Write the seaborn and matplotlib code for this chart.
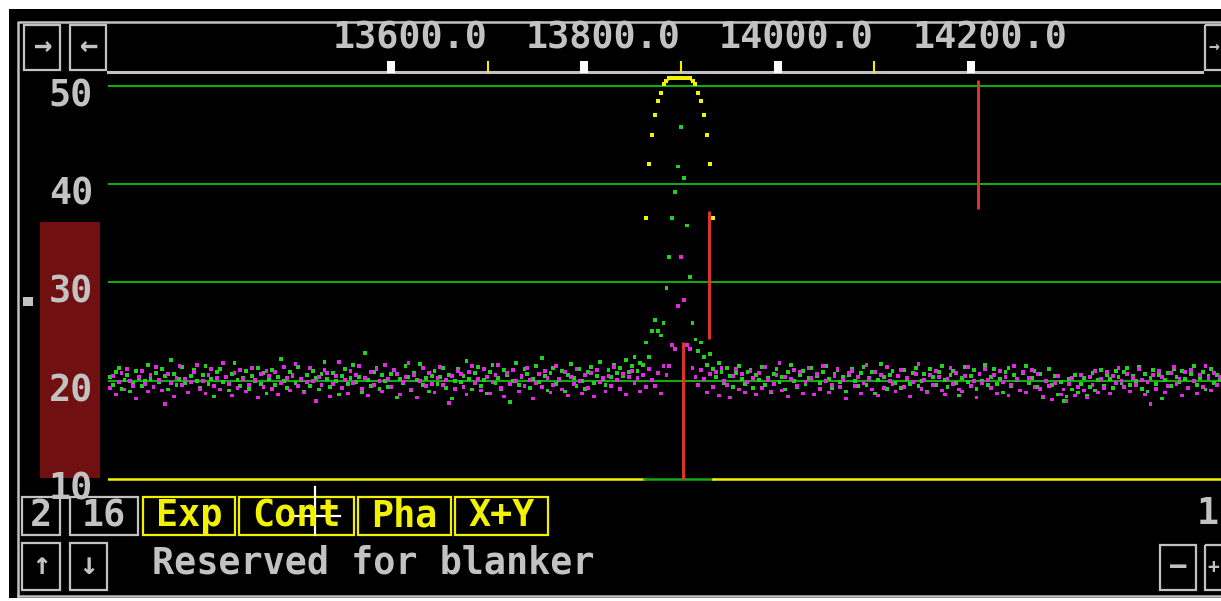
import numpy as np
import pandas as pd
import matplotlib
matplotlib.use("Agg")
import matplotlib.pyplot as plt
from matplotlib.patches import Rectangle
from matplotlib.transforms import ScaledTranslation
import seaborn as sns

# ---------------- scan data ----------------
FREQ_START = 13309          # first sample of the sweep
FREQ_STEP = 3               # sweep step

channel_x = [
    20.4, 19.6, 20.9, 21.3, 19.2, 20.1, 20.6, 18.9, 19.8, 21.0, 20.3, 19.5, 20.0, 21.6, 20.2, 19.4,
    20.8, 19.9, 21.2, 20.5, 19.1, 22.1, 20.7, 19.6, 20.2, 21.4, 19.8, 18.8, 20.5, 21.1, 20.0, 19.3,
    20.6, 21.5, 19.7, 20.2, 18.4, 20.9, 21.2, 19.9, 20.4, 19.0, 20.7, 21.8, 20.1, 19.5, 20.3, 21.0,
    19.2, 20.5, 20.0, 21.3, 19.7, 20.8, 18.7, 20.2, 21.1, 19.6, 20.4, 22.2, 20.0, 19.3, 20.9, 20.5,
    19.8, 21.4, 20.1, 18.9, 20.6, 19.5, 21.0, 20.3, 19.1, 20.7, 21.9, 20.2, 19.4, 20.8, 20.0, 18.6,
    20.5, 21.2, 19.7, 20.3, 21.6, 19.9, 20.4, 18.8, 22.8, 20.1, 19.5, 20.9, 21.3, 19.2, 20.6, 20.0,
    19.4, 20.7, 21.1, 18.3, 20.2, 19.8, 21.5, 20.4, 19.0, 20.8, 20.1, 21.7, 19.6, 20.3, 18.9, 20.5,
    21.0, 19.7, 20.4, 21.3, 19.3, 20.6, 18.2, 20.0, 21.2, 19.9, 20.5, 22.0, 20.2, 19.1, 20.8, 21.4,
    19.5, 20.1, 18.7, 20.9, 21.6, 19.8, 20.3, 19.2, 21.1, 20.6, 17.8, 20.0, 21.8, 19.6, 20.4, 21.2,
    20.7, 19.3, 20.2, 21.5, 19.9, 22.3, 20.5, 19.0, 20.8, 21.3, 19.7, 20.1, 21.0, 18.9, 20.6, 21.7,
    20.3, 19.5, 21.2, 20.0, 19.2, 20.9, 21.4, 19.8, 20.5, 21.9, 20.2, 19.6, 21.1, 20.4, 21.6, 20.8,
    21.3, 20.5, 22.1, 20.9, 21.5, 22.4, 21.0, 21.8, 21.6, 23.9, 22.4, 25.1, 26.2, 25.1, 24.6, 25.9,
    29.4, 32.6, 36.6, 39.2, 41.8, 45.8, 40.6, 35.8, 30.6, 25.9, 24.2, 23.0, 23.9, 22.4, 21.6, 22.7,
    21.2, 20.4, 21.8, 20.9, 19.8, 21.3, 20.5, 19.4, 20.8, 21.5, 20.2, 19.7, 20.9, 21.1, 19.3, 20.6,
    20.1, 21.4, 19.6, 20.3, 18.8, 20.7, 21.2, 19.9, 20.4, 19.1, 20.9, 21.6, 20.0, 19.4, 20.6, 21.0,
    19.7, 20.3, 21.3, 18.6, 20.5, 19.8, 20.9, 21.5, 20.2, 19.3, 20.7, 21.1, 19.9, 20.4, 18.9, 20.6,
    21.2, 20.0, 19.5, 20.8, 21.4, 19.6, 20.3, 20.9, 18.7, 20.1, 21.7, 20.4, 19.2, 20.6, 21.0, 19.8,
    20.5, 19.3, 21.1, 20.2, 19.7, 20.8, 21.3, 19.5, 20.0, 20.7, 18.9, 21.2, 20.4, 19.6, 20.9, 21.5,
    20.1, 19.4, 20.6, 21.0, 19.8, 18.5, 20.3, 21.4, 19.9, 20.5, 21.1, 19.2, 20.7, 20.0, 21.6, 19.6,
    20.4, 21.2, 19.7, 20.2, 18.8, 20.9, 21.3, 19.5, 20.6, 20.1, 19.0, 20.8, 21.5, 19.8, 20.3, 21.0,
    19.4, 20.7, 18.3, 20.0, 21.2, 19.6, 20.5, 18.6, 19.9, 17.9, 18.4, 20.2, 19.1, 20.6, 18.8, 19.7,
    20.3, 18.5, 19.4, 20.8, 19.0, 20.1, 21.1, 19.5, 20.6, 20.2, 19.3, 21.0, 20.4, 19.8, 20.9, 21.3,
    19.6, 20.5, 20.0, 21.4, 19.2, 20.7, 18.9, 20.3, 21.1, 19.7, 20.6, 18.2, 20.1, 20.8, 19.5, 21.2,
    20.4, 19.9, 21.0, 20.2, 19.3, 20.7, 21.5, 19.6, 20.3, 20.9, 19.1, 20.5, 21.2, 19.8, 20.6, 20.1,
]

channel_y = [
    19.3, 20.5, 18.6, 19.9, 20.8, 19.1, 21.2, 20.0, 19.5, 18.2, 20.4, 21.0, 19.7, 18.9, 20.6, 19.4,
    21.4, 20.1, 19.0, 17.6, 20.7, 19.8, 18.4, 20.3, 21.5, 19.6, 20.2, 18.8, 19.9, 20.9, 21.6, 19.2,
    20.0, 18.7, 20.6, 21.2, 19.5, 20.3, 19.1, 21.8, 20.4, 19.7, 18.5, 20.8, 19.3, 21.1, 20.2, 18.9,
    19.6, 21.3, 20.1, 18.3, 20.7, 19.4, 21.0, 20.5, 19.2, 20.9, 18.6, 19.8, 21.4, 20.3, 19.0, 20.6,
    21.7, 19.5, 20.2, 18.8, 19.9, 21.3, 20.0, 17.9, 20.4, 19.6, 21.1, 20.8, 18.4, 19.7, 20.5, 21.9,
    19.3, 20.1, 18.7, 21.0, 19.8, 20.6, 21.5, 19.2, 20.3, 18.5, 20.9, 19.6, 21.2, 20.0, 18.9, 21.6,
    20.2, 19.4, 21.1, 20.7, 18.6, 19.9, 20.4, 21.8, 19.1, 20.6, 18.3, 20.0, 21.3, 19.5, 20.8, 19.7,
    18.8, 20.3, 21.4, 19.6, 20.1, 17.7, 20.5, 19.2, 21.0, 20.7, 19.4, 18.6, 20.9, 21.5, 19.8, 20.2,
    19.0, 21.2, 20.4, 18.7, 19.9, 20.6, 21.6, 19.3, 18.4, 20.8, 19.7, 21.1, 20.0, 18.9, 20.5, 19.5,
    21.3, 20.1, 18.2, 19.8, 20.7, 19.4, 21.0, 20.3, 18.8, 19.6, 21.5, 20.2, 19.1, 20.9, 18.5, 20.4,
    19.7, 21.2, 20.0, 18.7, 20.6, 19.3, 20.8, 18.4, 21.1, 19.9, 20.3, 18.9, 20.5, 19.5, 21.4, 20.1,
    19.2, 20.7, 18.6, 20.4, 21.0, 19.8, 20.3, 18.9, 20.6, 19.4, 21.2, 20.1, 19.5, 20.8, 18.7, 21.5,
    20.6, 21.5, 23.6, 23.2, 27.6, 32.6, 28.2, 23.6, 23.2, 21.3, 20.4, 19.6, 21.1, 20.2, 18.8, 20.7,
    19.4, 20.9, 18.5, 21.3, 20.0, 19.6, 18.3, 20.5, 21.2, 19.1, 20.7, 18.8, 19.9, 21.0, 20.3, 18.6,
    20.8, 19.3, 21.4, 20.1, 18.9, 19.7, 20.6, 21.8, 19.0, 20.4, 18.4, 20.2, 21.1, 19.5, 20.9, 18.7,
    19.9, 21.3, 20.3, 18.6, 20.7, 19.2, 21.5, 20.0, 18.8, 19.6, 20.5, 21.2, 19.4, 20.1, 18.2, 20.8,
    21.0, 19.5, 20.4, 18.7, 19.8, 21.6, 20.2, 19.1, 20.9, 18.5, 20.6, 19.3, 21.4, 20.0, 19.7, 18.9,
    20.5, 21.1, 19.4, 20.3, 18.4, 19.9, 20.7, 21.7, 19.2, 20.1, 18.8, 20.6, 19.6, 21.0, 20.4, 19.0,
    18.6, 20.2, 21.3, 19.7, 20.8, 19.1, 18.9, 20.5, 21.4, 19.5, 20.0, 18.3, 20.7, 19.8, 21.2, 20.1,
    19.3, 20.6, 18.7, 21.0, 19.9, 20.4, 18.5, 19.6, 21.5, 20.2, 19.0, 20.9, 18.8, 20.3, 21.1, 19.4,
    20.7, 19.2, 18.4, 20.0, 19.5, 18.1, 19.8, 20.5, 18.6, 19.1, 17.9, 19.7, 20.3, 18.5, 19.4, 20.6,
    19.0, 18.3, 20.4, 19.6, 21.0, 18.8, 20.2, 19.3, 20.9, 18.7, 20.5, 19.8, 21.3, 20.0, 19.4, 20.7,
    18.9, 20.3, 19.6, 21.2, 20.1, 18.6, 19.9, 17.6, 20.6, 19.2, 21.0, 20.4, 18.8, 19.5, 20.8, 21.4,
    19.7, 20.2, 18.5, 20.9, 19.3, 21.1, 20.0, 18.7, 20.6, 19.4, 21.5, 20.3, 19.0, 20.8, 19.6, 20.4,
]

# magnitude trace around the resonance (values beyond the top are shown at the limit)
mag_freq = [13864, 13867, 13870, 13873, 13876, 13879, 13882, 13885,
            13888, 13891, 13894, 13897, 13900, 13903, 13906, 13909,
            13912, 13915, 13918, 13921, 13924, 13927, 13930, 13933]
mag_vals = [36.6, 42.1, 45.0, 47.0, 48.5, 49.3, 50.2, 50.5,
            50.8, 50.8, 50.8, 50.8, 50.8, 50.8, 50.8, 50.8,
            50.5, 50.2, 49.3, 48.5, 47.0, 45.0, 42.1, 36.6]

# marker steps
marker_freq = [13902, 13929, 14208]
marker_low = [10.0, 24.3, 37.5]
marker_high = [23.9, 37.3, 50.6]

y_ticks = [10, 20, 30, 40, 50]
x_major = [13600, 13800, 14000, 14200]
x_minor = [13700, 13900, 14100]

# ---------------- style ----------------
W, H = 1221, 601
GREY = "#c2c2c2"
YEL = "#f2f200"
GRID = "#14a814"
GREEN_PT = "#22d022"
MAG_PT = "#e02ae0"
RED = "#e3342b"
FONT = "DejaVu Sans Mono"
FS = 26.5

fig = plt.figure(figsize=(W / 100, H / 100), dpi=100, facecolor="white")

# screen chrome drawn in pixel coordinates
bg = fig.add_axes([0, 0, 1, 1])
bg.set_xlim(0, W)
bg.set_ylim(H, 0)
bg.axis("off")
bg.add_patch(Rectangle((9, 9), W - 9, 589, facecolor="black", edgecolor="none"))


def box(x0, y0, x1, y1, color=GREY, lw=1.6):
    bg.add_patch(Rectangle((x0, y0), x1 - x0, y1 - y0, facecolor="none",
                           edgecolor=color, linewidth=lw))


def label(x, y, s, color=GREY, ha="center", size=FS):
    bg.text(x, y, s, color=color, ha=ha, va="center", family=FONT,
            fontweight="bold", fontsize=size)


# outer frame
bg.plot([18, 18, W + 5], [596, 22, 22], color=GREY, lw=1.8)
bg.plot([18, W + 5], [596, 596], color=GREY, lw=1.8)

# top navigation buttons
box(24, 25, 60, 70)
box(70, 25, 106, 70)
box(1205, 25, 1240, 70)
label(42, 47, "→", size=22)
label(88, 47, "←", size=22)
label(1219, 47, "→", size=13, ha="right")

# axis rule under the frequency labels
bg.plot([108, 1202], [72, 72], color=GREY, lw=2.2)

# level bar and marker
bg.add_patch(Rectangle((40, 222), 60, 256, facecolor="#701010", edgecolor="none"))
bg.add_patch(Rectangle((23, 297), 10, 9, facecolor=GREY, edgecolor="none"))

# bottom control row
box(22, 497, 60, 535)
box(70, 497, 138, 535)
label(41, 516, "2")
label(104, 516, "16")
for (x0, x1, s) in [(143, 235, "Exp"), (239, 354, "Cont"), (358, 451, "Pha"), (455, 548, "X+Y")]:
    box(x0, 497, x1, 535, color=YEL)
    label((x0 + x1) / 2, 516, s, color=YEL)
label(1219, 514, "1", ha="right")

# cursor
bg.plot([315, 315], [487, 535], color="white", lw=1.6)
bg.plot([290, 340], [516, 516], color="white", lw=1.6)

# status row
box(22, 543, 60, 590)
box(70, 543, 107, 590)
label(41, 566, "↑", size=22)
label(88, 566, "↓", size=22)
label(152, 563, "Reserved for blanker", ha="left")
box(1160, 545, 1196, 590)
box(1205, 545, 1240, 590)
label(1178, 567, "−", size=22)
label(1219, 567, "+", size=14, ha="right")

# ---------------- plot area ----------------
ax = fig.add_axes([108 / W, 1 - 482 / H, (W - 108) / W, 409 / H])
ax.set_facecolor("none")
for sp in ax.spines.values():
    sp.set_visible(False)
ax.set_xlim(13307, 14459)
ax.set_ylim(50 - (482 - 86) / 9.825, 50 + (86 - 73) / 9.825)

for v in [20, 30, 40, 50]:
    ax.axhline(v, color=GRID, lw=1.5, zorder=1)

# floor line: magnitude trace clamped at the bottom outside the resonance
y0 = 10
ax.plot([13300, mag_freq[0] - 2], [y0, y0], color=YEL, lw=1.8, zorder=1)
ax.plot([mag_freq[0] - 2, mag_freq[-1]], [y0, y0], color=GRID, lw=1.8, zorder=1)
ax.plot([mag_freq[-1], 14470], [y0, y0], color=YEL, lw=1.8, zorder=1)

n = len(channel_x)
freq = FREQ_START + FREQ_STEP * np.arange(n)
df = pd.DataFrame({
    "freq": np.concatenate([freq, freq]),
    "level": np.concatenate([channel_x, channel_y]),
    "channel": ["X"] * n + ["Y"] * n,
})
sns.scatterplot(data=df, x="freq", y="level", hue="channel",
                palette={"X": GREEN_PT, "Y": MAG_PT}, marker="s", s=7.5,
                linewidth=0, legend=False, ax=ax, zorder=3)

mag = pd.DataFrame({"freq": mag_freq, "level": mag_vals})
sns.scatterplot(data=mag, x="freq", y="level", color=YEL, marker="s", s=7.5,
                linewidth=0, legend=False, ax=ax, zorder=4)
top = mag[mag["level"] >= 50.2]
ax.plot(top["freq"], top["level"], color=YEL, lw=1.8, zorder=4)

ax.vlines(marker_freq, marker_low, marker_high, color=RED, lw=2.1, zorder=5)

# frequency scale on top
ax.xaxis.tick_top()
ax.set_xticks(x_major)
ax.set_xticks(x_minor, minor=True)
ax.set_xticklabels([f"{v:.1f}" for v in x_major])
ax.tick_params(axis="x", which="major", direction="out", length=8.6, width=5.8,
               color="white", labelcolor=GREY, pad=3.5, labelsize=FS)
ax.tick_params(axis="x", which="minor", direction="out", length=8.6, width=1.5,
               color=YEL)
shift_x = ScaledTranslation(0.19, 0, fig.dpi_scale_trans)
for t in ax.get_xticklabels():
    t.set_transform(t.get_transform() + shift_x)
    t.set_family(FONT)
    t.set_fontweight("bold")

# level scale on the left
ax.set_yticks(y_ticks)
ax.set_yticklabels([str(v) for v in y_ticks])
ax.tick_params(axis="y", length=0, labelcolor=GREY, pad=10.8, labelsize=FS)
shift_y = ScaledTranslation(0, -0.06, fig.dpi_scale_trans)
for t in ax.get_yticklabels():
    t.set_transform(t.get_transform() + shift_y)
    t.set_family(FONT)
    t.set_fontweight("bold")

ax.set_xlabel("")
ax.set_ylabel("")

fig.savefig("out.png", dpi=100, facecolor="white")
